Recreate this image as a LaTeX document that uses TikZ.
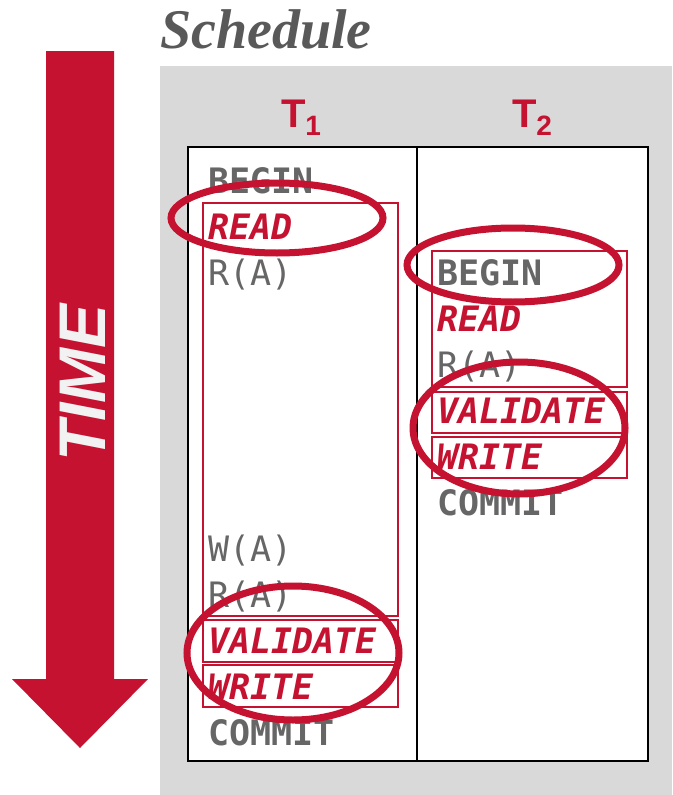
\documentclass[tikz,border=0pt]{standalone}
\usepackage{fontspec}
\setmainfont{Liberation Sans}
\newfontfamily\monof{DejaVu Sans Mono}
\newfontfamily\serifbi{Liberation Serif}
\definecolor{cmured}{HTML}{C41230}
\definecolor{txtgray}{HTML}{666666}
\definecolor{schedgray}{HTML}{595959}
\definecolor{bggray}{HTML}{D9D9D9}
\definecolor{timewhite}{HTML}{F2F2F2}
\begin{document}
\begin{tikzpicture}[x=1pt,y=-1pt,
  op/.style={anchor=base west, inner sep=0pt, text=txtgray, font=\monof\fontsize{35}{35}\selectfont},
  opb/.style={op, font=\monof\bfseries\fontsize{35}{35}\selectfont},
  phase/.style={op, text=cmured, font=\monof\bfseries\itshape\fontsize{35}{35}\selectfont},
  phasebox/.style={draw=cmured, line width=1.3pt},
  ring/.style={draw=cmured, line width=7pt},
  tlabel/.style={anchor=base, inner sep=0pt, text=cmured, font=\bfseries\fontsize{40}{40}\selectfont}]
\useasboundingbox (0,0) rectangle (672,795);
% background
\fill[bggray] (160,66) rectangle (672,795);
% title
\node[anchor=base west, inner sep=0pt, text=schedgray, font=\serifbi\bfseries\itshape\fontsize{56}{56}\selectfont] (title) at (160,48) {Schedule};
% time arrow
\fill[cmured] (46,51) -- (114,51) -- (114,679) -- (148,679) -- (80,748) -- (12,679) -- (46,679) -- cycle;
\node[rotate=90, inner sep=0pt, text=timewhite, font=\bfseries\itshape\fontsize{66}{66}\selectfont] (time) at (83,383) {TIME};
% table
\draw[line width=1.8pt, fill=white] (188,147) rectangle (648,761);
\draw[line width=1.8pt] (417,147) -- (417,761);
\node[tlabel] (t1) at (301,127) {T\raisebox{-8pt}{\fontsize{28}{28}\selectfont 1}};
\node[tlabel] (t2) at (532,127) {T\raisebox{-8pt}{\fontsize{28}{28}\selectfont 2}};
% column 1
\node[opb] (a0) at (208,193) {BEGIN};
\node[phase] (a1) at (208,239) {READ};
\node[op] (a2) at (208,285) {R(A)};
\node[op] (a8) at (208,561) {W(A)};
\node[op] (a9) at (208,607) {R(A)};
\node[phase] (a10) at (208,653) {VALIDATE};
\node[phase] (a11) at (208,699) {WRITE};
\node[opb] (a12) at (208,745) {COMMIT};
% column 2
\node[opb] (b2) at (437,285) {BEGIN};
\node[phase] (b3) at (437,331) {READ};
\node[op] (b4) at (437,377) {R(A)};
\node[phase] (b5) at (437,423) {VALIDATE};
\node[phase] (b6) at (437,469) {WRITE};
\node[opb] (b7) at (437,515) {COMMIT};
% phase boxes
\draw[phasebox] (203,203) rectangle (398,616);
\draw[phasebox] (203,620) rectangle (398,662);
\draw[phasebox] (203,665) rectangle (398,707);
\draw[phasebox] (432,251) rectangle (627,387);
\draw[phasebox] (432,392) rectangle (627,433);
\draw[phasebox] (432,437) rectangle (627,478);
% rings
\draw[ring] (277,218) ellipse [x radius=106, y radius=35];
\draw[ring] (513,265) ellipse [x radius=106, y radius=37];
\draw[ring] (519,428) ellipse [x radius=106, y radius=66];
\draw[ring] (293,653) ellipse [x radius=106, y radius=67];
\end{tikzpicture}
\end{document}
